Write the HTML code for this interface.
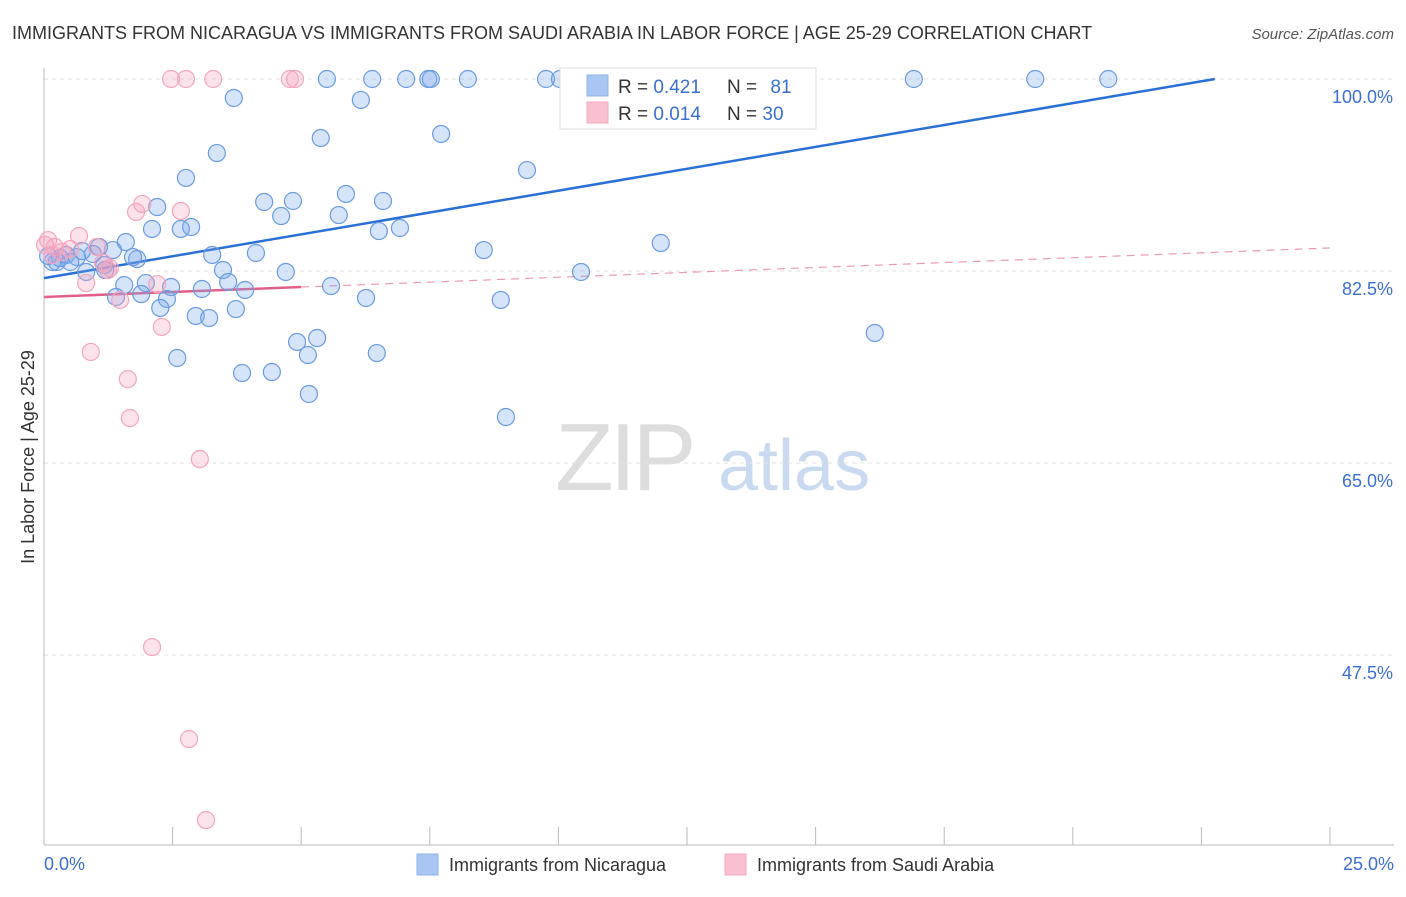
<!DOCTYPE html>
<html><head><meta charset="utf-8"><style>
body{margin:0;background:#fff;font-family:"Liberation Sans",sans-serif;}
svg text{font-family:"Liberation Sans",sans-serif;}
</style></head><body>
<svg id="chart" width="1406" height="892" viewBox="0 0 1406 892" xmlns="http://www.w3.org/2000/svg">
<text x="12" y="39" font-size="18" fill="#333">IMMIGRANTS FROM NICARAGUA VS IMMIGRANTS FROM SAUDI ARABIA IN LABOR FORCE | AGE 25-29 CORRELATION CHART</text>
<text x="1394" y="39" font-size="15" fill="#555" text-anchor="end" font-style="italic">Source: ZipAtlas.com</text>
<g>
<text x="555" y="490" font-size="96" fill="#ddd" font-family="Liberation Serif" letter-spacing="-4">ZIP</text>
<text x="718" y="490" font-size="72" fill="#c9daf0">atlas</text>
</g>
<g id="grid"></g><g id="axes"></g><g id="trend"></g><g id="pts"></g>
<text transform="translate(34,457) rotate(-90)" font-size="18" fill="#333" text-anchor="middle">In Labor Force | Age 25-29</text>
<g>
<rect x="560" y="68" width="256" height="61" fill="#fff" stroke="#ddd"/>
<rect x="587" y="75" width="21" height="21" fill="#a9c6f2" stroke="#8fb2ea"/>
<rect x="587" y="102" width="21" height="21" fill="#f9c0d0" stroke="#f4a9bf"/>
<text x="618" y="93" font-size="19" fill="#333">R = <tspan fill="#3a6fd1">0.421</tspan></text>
<text x="727" y="93" font-size="19" fill="#333">N = <tspan fill="#3a6fd1" dx="8">81</tspan></text>
<text x="618" y="120" font-size="19" fill="#333">R = <tspan fill="#3a6fd1">0.014</tspan></text>
<text x="727" y="120" font-size="19" fill="#333">N = <tspan fill="#3a6fd1">30</tspan></text>
</g>
<g>
<rect x="417" y="854" width="21" height="21" fill="#a9c6f2" stroke="#8fb2ea"/>
<text x="449" y="871" font-size="18" fill="#333">Immigrants from Nicaragua</text>
<rect x="725" y="854" width="21" height="21" fill="#f9c0d0" stroke="#f4a9bf"/>
<text x="757" y="871" font-size="18" fill="#333">Immigrants from Saudi Arabia</text>
</g>
</svg>
<script>
const blueX=[5.50,6.38,7.04,7.47,7.52,8.24,9.76,10.03,16.91,19.27,20.69,3.69,6.16,5.38,7.72,3.36,9.39,2.76,5.87,4.28,4.84,6.59,2.20,4.61,5.73,2.10,2.66,2.86,6.51,6.92,11.99,1.59,1.07,1.34,8.55,4.12,3.27,0.43,0.25,0.64,1.81,1.73,1.17,0.82,3.48,4.70,10.44,3.58,1.56,1.98,2.47,3.07,3.91,5.58,1.40,1.89,2.39,6.26,8.88,2.26,3.73,2.95,3.21,16.15,5.31,4.92,5.13,6.47,2.59,3.85,4.43,5.15,8.98,0.16,0.31,0.95,1.19,0.51,0.08,0.74];
const blueY=[100,100,100,100,100,100,100,100,100,100,100,98.27,98.09,94.62,94.99,93.25,91.70,90.98,89.52,88.79,88.88,88.88,88.33,87.51,87.60,86.33,86.33,86.51,86.14,86.42,85.05,85.14,84.69,84.41,84.41,84.14,83.96,83.96,83.32,83.77,83.59,83.77,83.04,82.41,82.59,82.41,82.41,81.50,81.22,81.40,81.04,80.86,80.77,81.13,80.13,80.40,79.95,80.04,79.86,79.13,79.03,78.40,78.21,76.85,76.39,76.03,74.84,75.02,74.57,73.20,73.29,71.29,69.19,83.32,83.68,84.05,82.59,83.32,83.87,84.32];
const pinkX=[2.47,2.76,3.29,4.78,4.88,1.91,1.79,2.66,0.68,1.03,0.08,0.21,0.51,1.24,0.82,2.20,1.48,2.29,0.91,1.63,1.67,3.03,2.10,2.82,3.15,0.02,0.35,1.15,1.28,0.16];
const pinkY=[100,100,100,100,100,88.61,87.88,87.97,85.69,84.69,85.32,84.69,84.50,82.59,81.40,81.31,79.86,77.40,75.12,72.65,69.10,65.36,48.22,39.84,32.45,84.87,84.23,83.23,82.77,83.96];
const blueTrend=[[0,81.85],[22.76,100]];
const pinkTrend=[[0,80.13],[5.0,81.04],[25,84.6]];
const yTicks=[100,82.5,65,47.5];
const yTickLabels=["100.0%","82.5%","65.0%","47.5%"];
const xTickVals=[0,2.5,5,7.5,10,12.5,15,17.5,20,22.5,25];

const NS="http://www.w3.org/2000/svg";
const X=v=>44+v*51.44, Y=v=>79+(100-v)*10.971;
function mk(parent,tag,attrs){const e=document.createElementNS(NS,tag);for(const k in attrs)e.setAttribute(k,attrs[k]);document.getElementById(parent).appendChild(e);return e;}
yTicks.forEach((t,i)=>{
  const l=mk('grid','line',{x1:44,x2:1394,y1:Y(t),y2:Y(t),stroke:'#e3e3e3','stroke-dasharray':'4,4'});
  
  
  const tx=mk('grid','text',{x:1393,y:Y(t)+24,'font-size':18,fill:'#3a6fd1','text-anchor':'end'});
  tx.textContent=yTickLabels[i];
  
  
});
const ya=mk('axes','line',{x1:44,x2:44,y1:68,y2:845,stroke:'#bbb'});


const xa=mk('axes','line',{x1:44,x2:1394,y1:845,y2:845,stroke:'#bbb'});


xTickVals.forEach(v=>{
  const t=mk('axes','line',{x1:X(v),x2:X(v),y1:827,y2:845,stroke:'#bbb'});
  
  
});
const xl0=mk('axes','text',{x:44,y:870,'font-size':18,fill:'#3a6fd1'});xl0.textContent='0.0%';


const xl1=mk('axes','text',{x:1394,y:870,'font-size':18,fill:'#3a6fd1','text-anchor':'end'});xl1.textContent='25.0%';



blueX.forEach((x,i)=>{
  const c=mk('pts','circle',{cx:X(x),cy:Y(blueY[i]),r:8.5,fill:'rgba(120,165,235,0.3)',stroke:'#6b9be0','stroke-width':1.2});
  
  
});
pinkX.forEach((x,i)=>{
  const c=mk('pts','circle',{cx:X(x),cy:Y(pinkY[i]),r:8.5,fill:'rgba(245,160,190,0.3)',stroke:'#f2a6bd','stroke-width':1.2});
  
  
});
const bt=mk('trend','line',{x1:X(blueTrend[0][0]),y1:Y(blueTrend[0][1]),x2:X(blueTrend[1][0]),y2:Y(blueTrend[1][1]),stroke:'#2a6fd6','stroke-width':2.5});


const pt=mk('trend','line',{x1:X(pinkTrend[0][0]),y1:Y(pinkTrend[0][1]),x2:X(pinkTrend[1][0]),y2:Y(pinkTrend[1][1]),stroke:'#e0608a','stroke-width':2.5});


const pd=mk('trend','line',{x1:X(pinkTrend[1][0]),y1:Y(pinkTrend[1][1]),x2:X(pinkTrend[2][0]),y2:Y(pinkTrend[2][1]),stroke:'#eb9ab4','stroke-width':1.2,'stroke-dasharray':'8,6'});


</script>
</body></html>
